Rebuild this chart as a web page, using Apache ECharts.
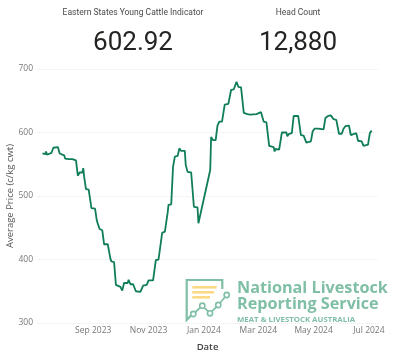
<!DOCTYPE html>
<html>
<head>
<meta charset="utf-8">
<style>
    html, body { margin: 0; padding: 0; background: #fff; }
    #chart { width: 400px; height: 357px; }
</style>
<script src="https://cdn.jsdelivr.net/npm/echarts@6/dist/echarts.min.js"></script>
</head>
<body>
<div id="chart"></div>
<script>
const dates = [
    '2023-07-07', '2023-07-10', '2023-07-11', '2023-07-12', '2023-07-13', '2023-07-17', '2023-07-19', '2023-07-24',
    '2023-07-26', '2023-07-28', '2023-07-31', '2023-08-01', '2023-08-05', '2023-08-07', '2023-08-09', '2023-08-10',
    '2023-08-13', '2023-08-15', '2023-08-17', '2023-08-20', '2023-08-21', '2023-08-22', '2023-08-24', '2023-08-27',
    '2023-08-30', '2023-09-03', '2023-09-05', '2023-09-08', '2023-09-11', '2023-09-13', '2023-09-17', '2023-09-20',
    '2023-09-21', '2023-09-24', '2023-09-26', '2023-09-28', '2023-10-01', '2023-10-03', '2023-10-05', '2023-10-09',
    '2023-10-10', '2023-10-12', '2023-10-15', '2023-10-18', '2023-10-23', '2023-10-26', '2023-10-30', '2023-11-01',
    '2023-11-06', '2023-11-09', '2023-11-12', '2023-11-16', '2023-11-19', '2023-11-22', '2023-11-23', '2023-11-26',
    '2023-11-28', '2023-11-30', '2023-12-03', '2023-12-05', '2023-12-07', '2023-12-11', '2023-12-12', '2023-12-14',
    '2023-12-18', '2023-12-21', '2023-12-25', '2023-12-26', '2024-01-08', '2024-01-09', '2024-01-11', '2024-01-14',
    '2024-01-16', '2024-01-18', '2024-01-21', '2024-01-24', '2024-01-28', '2024-01-31', '2024-02-03', '2024-02-06',
    '2024-02-08', '2024-02-11', '2024-02-14', '2024-02-18', '2024-02-21', '2024-02-28', '2024-03-04', '2024-03-07',
    '2024-03-10', '2024-03-13', '2024-03-18', '2024-03-19', '2024-03-20', '2024-03-24', '2024-03-27', '2024-04-01',
    '2024-04-02', '2024-04-04', '2024-04-07', '2024-04-09', '2024-04-14', '2024-04-17', '2024-04-20', '2024-04-23',
    '2024-04-28', '2024-04-30', '2024-05-02', '2024-05-06', '2024-05-08', '2024-05-12', '2024-05-14', '2024-05-17',
    '2024-05-20', '2024-05-23', '2024-05-26', '2024-05-29', '2024-06-01', '2024-06-03', '2024-06-05', '2024-06-09',
    '2024-06-11', '2024-06-13', '2024-06-17', '2024-06-19', '2024-06-23', '2024-06-25', '2024-06-30', '2024-07-02',
    '2024-07-04'
];
const prices = [
    567, 566, 570, 565, 568, 568, 576, 577,
    567, 565, 564, 559, 558, 559, 558, 557,
    556, 532, 537, 537, 544, 530, 511, 510,
    481, 480, 461, 448, 446, 424, 424, 401,
    397, 396, 360, 357, 357, 351, 363, 363,
    368, 361, 361, 350, 349, 359, 360, 367,
    367, 399, 400, 442, 444, 473, 486, 487,
    546, 562, 563, 575, 571, 571, 549, 538,
    537, 483, 482, 457, 541, 593, 588, 588,
    611, 617, 617, 644, 645, 667, 668, 680,
    672, 671, 631, 629, 628, 629, 632, 617,
    616, 579, 577, 570, 574, 573, 600, 600,
    594, 598, 599, 626, 626, 596, 595, 584,
    586, 602, 606, 606, 608, 605, 623, 626,
    627, 621, 620, 598, 598, 606, 610, 611,
    596, 597, 599, 587, 586, 579, 581, 599,
    602.92
];
const tickDates = ['2023-09-01', '2023-11-01', '2024-01-01', '2024-03-01', '2024-05-01', '2024-07-01'];
const tickLabels = ['Sep 2023', 'Nov 2023', 'Jan 2024', 'Mar 2024', 'May 2024', 'Jul 2024'];
const yTicks = [300, 400, 500, 600, 700];

const FONT = '"Open Sans", sans-serif';
const LOGO_GREEN = '#7fbfa5';
const LOGO_YELLOW = '#fbd987';

const toTime = (d) => new Date(d + 'T00:00:00Z').getTime();
const tickTimes = tickDates.map(toTime);

const myChart = echarts.init(document.getElementById('chart'), null, { renderer: 'canvas' });

// kpi cards above the chart
function kpiTexts(cx, label, value) {
    return [
        {
            type: 'text', x: cx, y: 12.5,
            style: { text: label, fill: '#4a4a4a', font: '8.5px Roboto, sans-serif', align: 'center', verticalAlign: 'middle' }
        },
        {
            type: 'text', x: cx, y: 43.5,
            style: { text: value, fill: '#252423', font: '26px Roboto, sans-serif', align: 'center', verticalAlign: 'middle' }
        }
    ];
}

// NLRS logo, sits on top of the plot
const logo = [
    { type: 'polyline', shape: { points: [[222.3, 289], [222.3, 280], [186.7, 280], [186.7, 320], [191, 315.5]] },
      style: { stroke: LOGO_GREEN, lineWidth: 2.2, fill: null } },
    { type: 'line', shape: { x1: 192.3, y1: 287.3, x2: 216.7, y2: 287.3 }, style: { stroke: LOGO_YELLOW, lineWidth: 2.6 } },
    { type: 'line', shape: { x1: 192.3, y1: 292.3, x2: 214, y2: 292.3 }, style: { stroke: LOGO_YELLOW, lineWidth: 2.6 } },
    { type: 'line', shape: { x1: 192.3, y1: 297.3, x2: 210, y2: 297.3 }, style: { stroke: LOGO_YELLOW, lineWidth: 2.6 } },
    { type: 'polyline', shape: { points: [[193.3, 314], [202.3, 305.7], [210, 313.3], [218.3, 305], [226.7, 295]] },
      style: { stroke: LOGO_GREEN, lineWidth: 1.8, fill: null } }
];
[[193.3, 314], [202.3, 305.7], [210, 313.3], [218.3, 305], [226.7, 295]].forEach((p) => {
    logo.push({ type: 'circle', shape: { cx: p[0], cy: p[1], r: 2.6 }, style: { fill: '#fff', stroke: LOGO_GREEN, lineWidth: 1.6 } });
});
logo.push(
    { type: 'text', x: 237, y: 288, style: { text: 'National Livestock', fill: LOGO_GREEN, font: 'bold 16.2px "Open Sans", sans-serif', verticalAlign: 'middle' } },
    { type: 'text', x: 237, y: 304, style: { text: 'Reporting Service', fill: LOGO_GREEN, font: 'bold 16.2px "Open Sans", sans-serif', verticalAlign: 'middle' } },
    { type: 'text', x: 237, y: 320, style: { text: 'MEAT & LIVESTOCK AUSTRALIA', fill: LOGO_GREEN, font: 'bold 7.8px "Open Sans", sans-serif', verticalAlign: 'middle' } }
);

const option = {
    animation: false,
    backgroundColor: '#fff',
    grid: { left: 37, right: 22, top: 69, bottom: 34, outerBoundsMode: 'none' },
    xAxis: {
        type: 'value',
        min: toTime('2023-07-01'),
        max: toTime('2024-07-11'),
        name: 'Date',
        nameLocation: 'middle',
        nameGap: 19,
        nameMoveOverlap: false,
        nameTextStyle: { fontFamily: FONT, fontSize: 9.5, color: '#444', fontWeight: 600 },
        axisLine: { show: false },
        axisTick: { show: false },
        splitLine: { show: false },
        axisLabel: {
            customValues: tickTimes,
            hideOverlap: false,
            margin: 3,
            fontFamily: FONT,
            fontSize: 8.5,
            color: '#777',
            formatter: (val) => tickLabels[tickTimes.indexOf(val)]
        }
    },
    yAxis: {
        type: 'value',
        min: yTicks[0],
        max: yTicks[yTicks.length - 1],
        interval: 100,
        name: 'Average Price (c/kg cwt)',
        nameLocation: 'middle',
        nameGap: 22,
        nameMoveOverlap: false,
        nameTextStyle: { fontFamily: FONT, fontSize: 9.5, color: '#555' },
        axisLine: { show: false },
        axisTick: { show: false },
        axisLabel: { margin: 4, fontFamily: FONT, fontSize: 8.5, color: '#777' },
        splitLine: { lineStyle: { type: 'dotted', color: '#ebebeb', width: 1 } }
    },
    series: [
        {
            name: 'Average Price',
            type: 'line',
            showSymbol: false,
            smooth: false,
            lineStyle: { color: '#0f7d58', width: 1.8 },
            data: dates.map((d, i) => [toTime(d), prices[i]])
        }
    ],
    graphic: [
        ...kpiTexts(133, 'Eastern States Young Cattle Indicator', '602.92'),
        ...kpiTexts(298, 'Head Count', '12,880'),
        ...logo
    ]
};

myChart.setOption(option);
</script>
</body>
</html>
